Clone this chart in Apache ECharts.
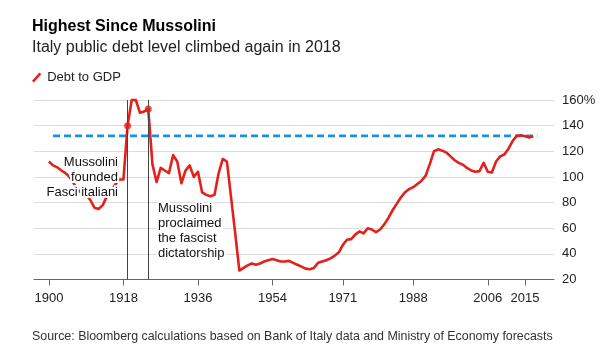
<!DOCTYPE html>
<html>
<head>
<meta charset="utf-8">
<script src="https://cdn.jsdelivr.net/npm/echarts@6/dist/echarts.min.js"></script>
<style>
html,body{margin:0;padding:0;background:#fff;}
#chart{width:600px;height:358px;}
</style>
</head>
<body>
<div id="chart"></div>
<script>
// ---- Data ----
const years = [
  1900,1901,1902,1903,1904,1905,1906,1907,1908,1909,
  1910,1911,1912,1913,1914,1915,1916,1917,1918,1919,
  1920,1921,1922,1923,1924,1925,1926,1927,1928,1929,
  1930,1931,1932,1933,1934,1935,1936,1937,1938,1939,
  1940,1941,1942,1943,1944,1945,1946,1947,1948,1949,
  1950,1951,1952,1953,1954,1955,1956,1957,1958,1959,
  1960,1961,1962,1963,1964,1965,1966,1967,1968,1969,
  1970,1971,1972,1973,1974,1975,1976,1977,1978,1979,
  1980,1981,1982,1983,1984,1985,1986,1987,1988,1989,
  1990,1991,1992,1993,1994,1995,1996,1997,1998,1999,
  2000,2001,2002,2003,2004,2005,2006,2007,2008,2009,
  2010,2011,2012,2013,2014,2015,2016,2017
];
const debtToGdp = [
  112,109,107.5,105,103,100,95,90,87,86,
  82,76,75,78,85,88,94,98,98,140,
  160,160,150,151,153,110,96,107,105,103,
  117,112,95,105,109,100,104,88,86,85,
  86,103,114,112,84,56,27,29,31,32.5,
  31.5,32.5,34,35,36,35,34,34,34.5,33,
  31.5,30,28.5,28,29,33,34,35,36.5,38.5,
  41,47,51,51.5,55,57.5,56,60,59,57,
  59,63,68,74,79,84,88,90.5,92,94.5,
  97,101,110,120,121.5,120.5,119,116,113,111,
  109.5,107,105,104,104.5,111,104,103.5,112,116,
  117.5,122,128,132,132.5,131.8,130.8,131.8
];
const currentLevel = 132;
const currentLevelYears = [1901, 2018];
const eventYears = [1919, 1924];
const eventValues = [140, 153];
const xTickYears = [1900, 1918, 1936, 1954, 1971, 1988, 2006, 2015];

const FONT = "'Liberation Sans', Arial, Helvetica, sans-serif";
const RED = '#e3201b';
const BLUE = '#1f8fe3';

const chart = echarts.init(document.getElementById('chart'), null, {renderer: 'canvas'});

const lineData = years.map((y, i) => [y, debtToGdp[i]]);
const levelData = currentLevelYears.map(y => [y, currentLevel]);
const eventData = eventYears.map((y, i) => [y, eventValues[i]]);

chart.setOption({
  animation: false,
  backgroundColor: '#fff',
  title: [
    {text: 'Highest Since Mussolini', left: 27, top: 14,
     textStyle: {fontFamily: FONT, fontSize: 16, fontWeight: 'bold', color: '#000'}},
    {text: 'Italy public debt level climbed again in 2018', left: 27, top: 35,
     textStyle: {fontFamily: FONT, fontSize: 16, fontWeight: 'normal', color: '#222'}},
    {text: 'Source: Bloomberg calculations based on Bank of Italy data and Ministry of Economy forecasts',
     left: 27, top: 326,
     textStyle: {fontFamily: FONT, fontSize: 12.4, fontWeight: 'normal', color: '#333'}}
  ],
  legend: {
    data: ['Debt to GDP'],
    left: 27, top: 66,
    itemWidth: 11, itemHeight: 10,
    icon: 'path://M0,9 L8,0 L10,1.8 L2,10.8 Z',
    textStyle: {fontFamily: FONT, fontSize: 13, color: '#222'}
  },
  grid: {left: 34, right: 46, top: 100, bottom: 78.5, containLabel: false},
  xAxis: {
    type: 'value',
    min: 1896.4, max: 2022,
    splitLine: {show: false},
    axisLine: {show: true, lineStyle: {color: '#666', width: 1.2}},
    axisTick: {show: true, customValues: xTickYears, length: 6, lineStyle: {color: '#666'}},
    axisLabel: {show: true, customValues: xTickYears, margin: 12,
      fontFamily: FONT, fontSize: 13, color: '#222', formatter: v => String(v)}
  },
  yAxis: {
    type: 'value',
    position: 'right',
    min: 20, max: 160, interval: 20,
    axisLine: {show: false},
    axisTick: {show: false},
    splitLine: {show: true, lineStyle: {color: '#dcdcdc', width: 1}},
    axisLabel: {margin: 8, fontFamily: FONT, fontSize: 13, color: '#222',
      formatter: v => v === 160 ? v + '%' : String(v)}
  },
  series: [
    {
      name: 'level',
      type: 'line',
      data: levelData,
      symbol: 'none',
      silent: true,
      z: 3,
      lineStyle: {color: BLUE, width: 2.6, type: [7, 4]},
      markLine: {
        silent: true,
        symbol: ['none', 'none'],
        label: {show: false},
        lineStyle: {color: '#444', width: 1, type: 'solid'},
        data: eventYears.map(y => ({xAxis: y}))
      }
    },
    {
      name: 'Debt to GDP',
      type: 'line',
      data: lineData,
      symbol: 'none',
      clip: false,
      z: 4,
      lineStyle: {color: RED, width: 2.6, join: 'round'},
      itemStyle: {color: RED}
    },
    {
      name: 'events',
      type: 'scatter',
      data: eventData,
      symbolSize: 7,
      z: 5,
      itemStyle: {color: RED}
    }
  ],
  graphic: [
    {type: 'text', z: 100, x: 118, y: 155,
     style: {text: 'Mussolini\nfounded\nFasci italiani', fill: '#111', font: '13px ' + FONT,
       align: 'right', verticalAlign: 'top', lineHeight: 15,
       stroke: '#fff', lineWidth: 4}},
    {type: 'text', z: 100, x: 158, y: 201,
     style: {text: 'Mussolini\nproclaimed\nthe fascist\ndictatorship', fill: '#111', font: '13px ' + FONT,
       align: 'left', verticalAlign: 'top', lineHeight: 15,
       stroke: '#fff', lineWidth: 4}}
  ]
});
</script>
</body>
</html>
